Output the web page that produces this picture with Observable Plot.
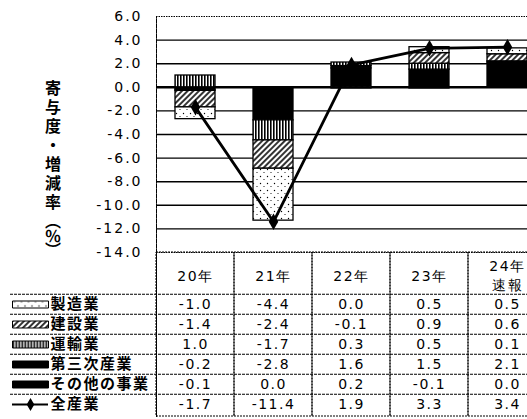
<!DOCTYPE html>
<html><head><meta charset="utf-8">
<script src="https://cdn.jsdelivr.net/npm/d3@7"></script>
<script src="https://cdn.jsdelivr.net/npm/@observablehq/plot@0.6"></script>
<style>
html,body{margin:0;padding:0;background:#fff;overflow:hidden;width:527px;height:419px}
#wrap{position:relative;width:527px;height:419px;overflow:hidden}
#chart,#table{position:absolute;left:0}
#chart{top:0}
#table{top:252px}
#ytitle{position:absolute;left:45px;top:80px;writing-mode:vertical-rl;font-family:"Noto Sans CJK JP";font-size:16px;font-weight:bold;letter-spacing:3px;line-height:1;color:#000}
#ytitle span{letter-spacing:-1.5px}
svg{max-width:none !important}
</style></head>
<body>
<svg width="0" height="0" style="position:absolute">
<defs>
<pattern id="pat-dots" width="7" height="7" patternUnits="userSpaceOnUse"><rect width="7" height="7" fill="white"/><circle cx="1.5" cy="1.5" r="0.7" fill="black"/><circle cx="5" cy="4.5" r="0.6" fill="black"/></pattern>
<pattern id="pat-hatch" width="4" height="4" patternUnits="userSpaceOnUse" patternTransform="rotate(45)"><rect width="4" height="4" fill="white"/><line x1="1" y1="0" x2="1" y2="4" stroke="black" stroke-width="1.6"/></pattern>
<pattern id="pat-vert" width="3" height="3" patternUnits="userSpaceOnUse"><rect width="3" height="3" fill="white"/><rect x="0" y="0" width="1.6" height="3" fill="black"/></pattern>
</defs></svg>
<div id="wrap"><div id="chart"></div><div id="table"></div><div id="ytitle">寄与度・増減率<span>（％）</span></div></div>
<script>
const years = ["20年","21年","22年","23年","24年"];
const yearLabels = ["20年","21年","22年","23年","24年\n速報"];
const seriesNames = ["製造業","建設業","運輸業","第三次産業","その他の事業"];
const manufacturing = [-1.0,-4.4,0.0,0.5,0.5];
const construction = [-1.4,-2.4,-0.1,0.9,0.6];
const transport = [1.0,-1.7,0.3,0.5,0.1];
const tertiary = [-0.2,-2.8,1.6,1.5,2.1];
const otherBiz = [-0.1,0.0,0.2,-0.1,0.0];
const totalName = "全産業";
const allIndustry = [-1.7,-11.4,1.9,3.3,3.4];
const yTicks = [6,4,2,0,-2,-4,-6,-8,-10,-12,-14];

const seriesValues = {"製造業":manufacturing,"建設業":construction,"運輸業":transport,"第三次産業":tertiary,"その他の事業":otherBiz};
const fills = {"製造業":"url(#pat-dots)","建設業":"url(#pat-hatch)","運輸業":"url(#pat-vert)","第三次産業":"black","その他の事業":"black"};
const stackOrder = ["第三次産業","その他の事業","運輸業","建設業","製造業"];
const bars = stackOrder.flatMap(s => years.map((y,i)=>({year:y, series:s, value:seriesValues[s][i]})));
const line = years.map((y,i)=>({year:y, value:allIndustry[i]}));
const tableRows = [...seriesNames.flatMap(s => years.map((y,i)=>({year:y, series:s, value:seriesValues[s][i]}))),
  ...years.map((y,i)=>({year:y, series:totalName, value:allIndustry[i]}))];

const W = 560, L = 156, R = 14;
const baseStyle = {maxWidth:"none", background:"transparent", fontFamily:"'DejaVu Sans', sans-serif", fontSize:"14px", letterSpacing:"1.5px", color:"black", overflow:"visible"};

const chart = Plot.plot({
  width: W, height: 260, marginLeft: L, marginRight: R, marginTop: 16, marginBottom: 8,
  style: {...baseStyle, letterSpacing: "2px"},
  x: {domain: years, paddingInner: 0.49, paddingOuter: 0.245, axis: null},
  y: {domain: [-14, 6], ticks: yTicks, tickFormat: d => d.toFixed(1), tickSize: 0, tickPadding: 14, label: null},
  color: {type: "identity"},
  marks: [
    Plot.ruleY(yTicks.filter(d => d !== 0 && d !== 6 && d !== -14), {stroke: "black", strokeWidth: 1.4}),
    Plot.ruleY([6, -14], {stroke: "black", strokeWidth: 1.2, strokeDasharray: "1.5,1"}),
    Plot.frame({anchor: "left", stroke: "black", strokeDasharray: "1.5,1"}),
    Plot.ruleY([0], {stroke: "black", strokeWidth: 2.6}),
    Plot.barY(bars, {x: "year", y: "value", fill: d => fills[d.series], stroke: "black", strokeWidth: 1.3}),
    Plot.line(line, {x: "year", y: "value", stroke: "black", strokeWidth: 2.8}),
    Plot.dot(line, {x: "year", y: "value", symbol: "diamond", r: 5, fill: "black"})
  ]
});
document.getElementById("chart").append(chart);

const rowKeys = ["h1", "h2", ...seriesNames, totalName];
const swatch = {draw(context) { context.rect(-18, -3.5, 36, 7); }};
const table = Plot.plot({
  width: W, height: 164, marginLeft: L, marginRight: R, marginTop: 0, marginBottom: 0,
  style: baseStyle,
  x: {type: "band", domain: years, padding: 0, axis: null},
  y: {type: "band", domain: rowKeys, padding: 0, axis: null},
  color: {type: "identity"},
  marks: [
    Plot.cell(years, {x: d => d, fill: "none", stroke: "black", strokeDasharray: "2,1"}),
    Plot.frame({anchor: "left", stroke: "black", strokeDasharray: "2,1"}),
    Plot.ruleY(rowKeys.slice(2), {y: d => d, dy: -10.25, insetLeft: -146, stroke: "black", strokeWidth: 1.2, strokeDasharray: "3,1"}),
    Plot.text(years, {x: d => d, y: () => "h1", dy: 10.25, text: (d, i) => yearLabels[i], lineHeight: 1.3, fontSize: 14}),
    Plot.text(tableRows, {x: "year", y: "series", text: d => d.value.toFixed(1), fontSize: 14}),
    Plot.text(rowKeys.slice(2), {y: d => d, frameAnchor: "left", dx: -106, textAnchor: "start", fontFamily: "'Noto Sans CJK JP'", fontWeight: "bold", fontSize: 15}),
    Plot.dot(seriesNames, {y: d => d, frameAnchor: "left", dx: -126, symbol: swatch, r: 5, fill: d => fills[d], stroke: "black", strokeWidth: 1}),
    Plot.ruleY([totalName], {y: d => d, insetLeft: -144, insetRight: 498, stroke: "black", strokeWidth: 2}),
    Plot.dot([totalName], {y: d => d, frameAnchor: "left", dx: -126, symbol: "diamond", r: 4, fill: "black"})
  ]
});
document.getElementById("table").append(table);
</script>
</body></html>
